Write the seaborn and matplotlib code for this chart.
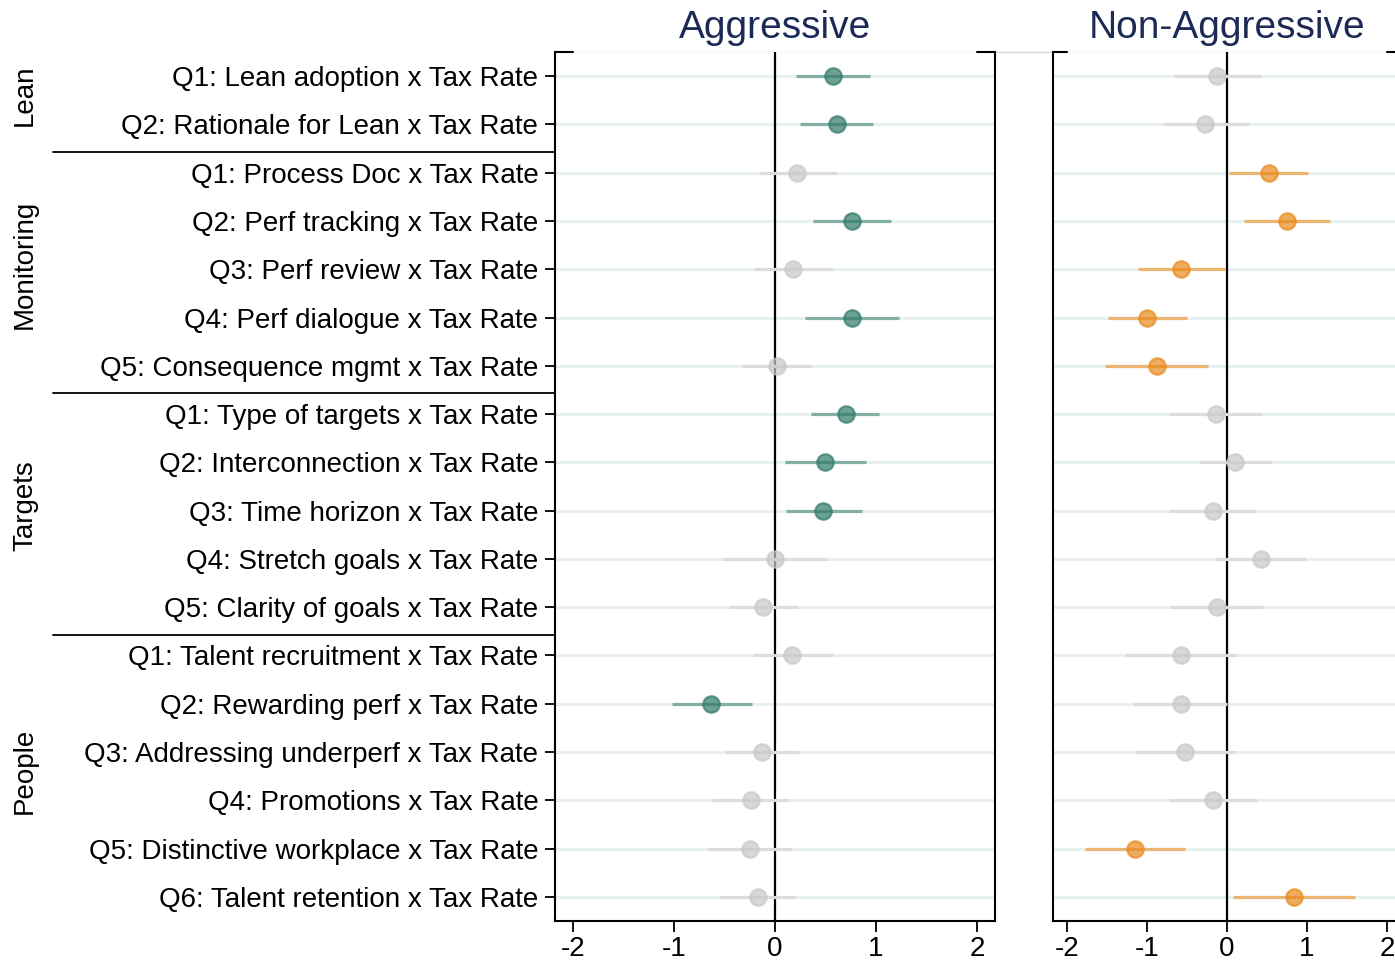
import numpy as np
import pandas as pd
import matplotlib
matplotlib.use("Agg")
import matplotlib.pyplot as plt
import seaborn as sns
from matplotlib.lines import Line2D
from matplotlib.transforms import blended_transform_factory

labels = [
    "Q1: Lean adoption x Tax Rate",
    "Q2: Rationale for Lean x Tax Rate",
    "Q1: Process Doc x Tax Rate",
    "Q2: Perf tracking x Tax Rate",
    "Q3: Perf review x Tax Rate",
    "Q4: Perf dialogue x Tax Rate",
    "Q5: Consequence mgmt x Tax Rate",
    "Q1: Type of targets x Tax Rate",
    "Q2: Interconnection x Tax Rate",
    "Q3: Time horizon x Tax Rate",
    "Q4: Stretch goals x Tax Rate",
    "Q5: Clarity of goals x Tax Rate",
    "Q1: Talent recruitment x Tax Rate",
    "Q2: Rewarding perf x Tax Rate",
    "Q3: Addressing underperf x Tax Rate",
    "Q4: Promotions x Tax Rate",
    "Q5: Distinctive workplace x Tax Rate",
    "Q6: Talent retention x Tax Rate",
]
groups = ["Lean", "Monitoring", "Targets", "People"]
group_sizes = [2, 5, 5, 6]

agg_coef = [0.57, 0.61, 0.22, 0.76, 0.18, 0.76, 0.02, 0.70, 0.50, 0.48,
            0.00, -0.12, 0.17, -0.63, -0.13, -0.24, -0.25, -0.17]
agg_lo = [0.21, 0.25, -0.16, 0.38, -0.21, 0.30, -0.33, 0.36, 0.10, 0.11,
          -0.52, -0.46, -0.22, -1.02, -0.50, -0.62, -0.66, -0.55]
agg_hi = [0.94, 0.97, 0.61, 1.15, 0.57, 1.23, 0.37, 1.03, 0.90, 0.86,
          0.52, 0.23, 0.57, -0.23, 0.24, 0.13, 0.17, 0.20]
agg_sig = [1, 1, 0, 1, 0, 1, 0, 1, 1, 1, 0, 0, 0, 1, 0, 0, 0, 0]

non_coef = [-0.12, -0.27, 0.52, 0.75, -0.57, -1.00, -0.88, -0.14, 0.10, -0.18,
            0.42, -0.13, -0.58, -0.58, -0.52, -0.17, -1.15, 0.84]
non_lo = [-0.66, -0.80, 0.03, 0.21, -1.11, -1.49, -1.52, -0.72, -0.35, -0.72,
          -0.15, -0.71, -1.27, -1.17, -1.15, -0.72, -1.77, 0.08]
non_hi = [0.43, 0.27, 1.01, 1.29, -0.02, -0.50, -0.24, 0.44, 0.56, 0.36,
          0.99, 0.45, 0.11, 0.00, 0.10, 0.37, -0.52, 1.60]
non_sig = [0, 0, 1, 1, 1, 1, 1, 0, 0, 0, 0, 0, 0, 0, 0, 0, 1, 1]

xticks = [-2, -1, 0, 1, 2]

sns.set_theme(style="white")
plt.rcParams["font.family"] = ["Liberation Sans", "DejaVu Sans"]
plt.rcParams.update({"text.color": "black", "xtick.color": "black",
                     "ytick.color": "black", "axes.labelcolor": "black"})

W, H = 1395, 966
fig = plt.figure(figsize=(W / 100, H / 100), dpi=100)
top = 1 - 52 / H
bottom = 1 - 921 / H
ax_l = fig.add_axes([555 / W, bottom, 440 / W, top - bottom])
ax_r = fig.add_axes([1052.5 / W, bottom, 349 / W, top - bottom])

panels = [
    (ax_l, "Aggressive", agg_coef, agg_lo, agg_hi, agg_sig, "#2f7a69", "#82b0a6"),
    (ax_r, "Non-Aggressive", non_coef, non_lo, non_hi, non_sig, "#e88a1a", "#ebb471"),
]
gray_pt, gray_ci = "#c8c8c8", "#dddddd"

for ax, title, coef, lo, hi, sig, col_pt, col_ci in panels:
    df = pd.DataFrame({"row": np.arange(len(labels)), "coef": coef,
                       "lo": lo, "hi": hi, "sig": np.array(sig, dtype=bool)})
    ax.set_yticks(df["row"])
    ax.grid(axis="y", color="#e8f0f2", lw=2.2)
    ax.grid(axis="x", visible=False)
    ax.set_axisbelow(True)
    ax.axvline(0, color="black", lw=1.6, zorder=1.5)

    for s, cp, cc in [(False, gray_pt, gray_ci), (True, col_pt, col_ci)]:
        d = df[df["sig"] == s]
        ax.hlines(d["row"], d["lo"], d["hi"], color=cc, lw=2.3, zorder=2)
        sns.scatterplot(data=d, x="coef", y="row", ax=ax, color=cp, s=140,
                        edgecolor=cp, linewidth=1.6, alpha=0.7, zorder=3, legend=False)

    ax.set_xlim(-2.18, 2.18)
    ax.set_ylim(len(labels) - 0.5, -0.5)
    ax.set_xticks(xticks)
    ax.set_xticklabels([str(t) for t in xticks], fontsize=20)
    ax.set_xlabel("")
    ax.set_ylabel("")
    ax.tick_params(axis="x", length=8, width=1.3, color="black", labelcolor="black",
                   pad=3, bottom=True)
    for side in ["left", "right", "bottom"]:
        ax.spines[side].set_color("black")
        ax.spines[side].set_linewidth(1.5)
    ax.spines["top"].set_visible(False)
    # short black corner marks on top edge, outside the outer ticks
    tr = ax.get_xaxis_transform()
    xl = ax.get_xlim()
    ax.plot([xl[0], xticks[0]], [1, 1], transform=tr, color="black", lw=1.5, clip_on=False, zorder=5)
    ax.plot([xticks[-1], xl[1]], [1, 1], transform=tr, color="black", lw=1.5, clip_on=False, zorder=5)
    ax.set_title(title, fontsize=28, color="#1c2a55", pad=10)

ax_l.set_yticklabels(labels, fontsize=20)
ax_l.tick_params(axis="y", length=7, width=1.3, color="black", labelcolor="black",
                 pad=5, left=True)
ax_r.set_yticklabels([])
ax_r.tick_params(axis="y", length=0)

# thin gray line along the top of both panels
fig.add_artist(Line2D([555 / W, 1], [top, top], transform=fig.transFigure,
                      color="#d6d6d6", lw=1, zorder=0))

# group labels and separators
tr = blended_transform_factory(fig.transFigure, ax_l.transData)
start = 0
for g, n in zip(groups, group_sizes):
    mid = start + (n - 1) / 2
    fig.text(25 / W, 0, g, transform=tr, rotation=90, fontsize=20, color="black",
             ha="center", va="center").set_y(mid - 0.1)
    end = start + n - 1
    if end < len(labels) - 1:
        fig.add_artist(Line2D([53 / W, 555 / W], [end + 0.57, end + 0.57], transform=tr,
                              color="black", lw=1.3))
    start += n

fig.savefig("out.png", dpi=100)
